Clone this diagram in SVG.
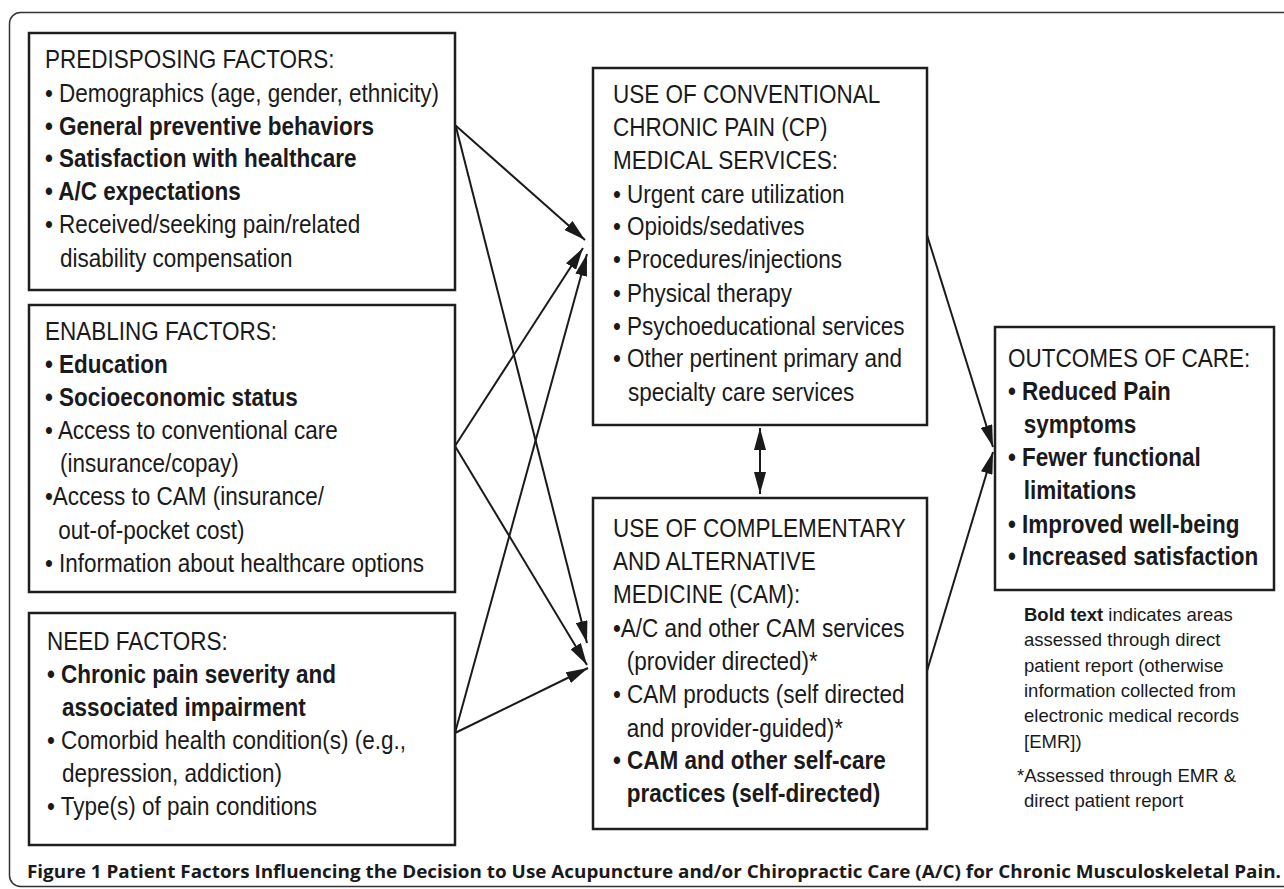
<svg xmlns="http://www.w3.org/2000/svg" width="1284" height="889" viewBox="0 0 1284 889">
<defs>
<style>
.frame{fill:none;stroke:#333;stroke-width:1.5}
.box{fill:#fff;stroke:#1e1e1e;stroke-width:2.5}
.t{font-family:"Liberation Sans",Arial,sans-serif;font-size:25px;fill:#1a1a1a}
.b{font-weight:bold}
.note{font-family:"Liberation Sans",Arial,sans-serif;font-size:18.5px;fill:#1a1a1a}
.cap{font-family:"Open Sans","Noto Sans",sans-serif;font-size:18.5px;fill:#1a1a1a;font-weight:700}
.arr{fill:none;stroke:#1a1a1a;stroke-width:2}
</style>
<marker id="ah" markerUnits="userSpaceOnUse" markerWidth="23" markerHeight="12" refX="22" refY="6" orient="auto">
<path d="M0,0 L22,6 L0,12 z" fill="#1a1a1a"/>
</marker>
<marker id="ahs" markerUnits="userSpaceOnUse" markerWidth="23" markerHeight="12" refX="0" refY="6" orient="auto">
<path d="M22,0 L0,6 L22,12 z" fill="#1a1a1a"/>
</marker>
</defs>
<rect width="1284" height="889" fill="#fff"/>
<rect class="frame" x="9.5" y="12.5" width="1300" height="874" rx="11"/>

<g id="connectors">
<line class="arr" x1="455" y1="125" x2="585" y2="240" marker-end="url(#ah)"/>
<line class="arr" x1="456" y1="127" x2="587" y2="643" marker-end="url(#ah)"/>
<line class="arr" x1="455" y1="446" x2="583" y2="248" marker-end="url(#ah)"/>
<line class="arr" x1="455" y1="446" x2="587" y2="665" marker-end="url(#ah)"/>
<line class="arr" x1="455" y1="733" x2="587" y2="254" marker-end="url(#ah)"/>
<line class="arr" x1="455" y1="733" x2="588" y2="668" marker-end="url(#ah)"/>
<line class="arr" x1="927" y1="235" x2="993" y2="447" marker-end="url(#ah)"/>
<line class="arr" x1="927" y1="671" x2="993" y2="452" marker-end="url(#ah)"/>
<line class="arr" x1="760" y1="428" x2="760" y2="494" marker-start="url(#ahs)" marker-end="url(#ah)"/>
</g>

<g id="predisposing">
<rect class="box" x="29" y="33" width="426" height="257"/>
<text class="t" transform="matrix(0.9 0 0 1 45 0)">
<tspan x="0" y="68">PREDISPOSING FACTORS:</tspan>
<tspan x="0" y="102">• Demographics (age, gender, ethnicity)</tspan>
<tspan x="0" y="135" class="b">• General preventive behaviors</tspan>
<tspan x="0" y="167" class="b">• Satisfaction with healthcare</tspan>
<tspan x="0" y="200" class="b">• A/C expectations</tspan>
<tspan x="0" y="233">• Received/seeking pain/related</tspan>
<tspan x="16.7" y="267">disability compensation</tspan>
</text>
</g>

<g id="enabling">
<rect class="box" x="29" y="305" width="426" height="287"/>
<text class="t" transform="matrix(0.9 0 0 1 45 0)">
<tspan x="0" y="340">ENABLING FACTORS:</tspan>
<tspan x="0" y="373" class="b">• Education</tspan>
<tspan x="0" y="406" class="b">• Socioeconomic status</tspan>
<tspan x="0" y="439">• Access to conventional care</tspan>
<tspan x="16.7" y="472">(insurance/copay)</tspan>
<tspan x="0" y="505">•Access to CAM (insurance/</tspan>
<tspan x="14.8" y="539">out-of-pocket cost)</tspan>
<tspan x="0" y="572">• Information about healthcare options</tspan>
</text>
</g>

<g id="need">
<rect class="box" x="29" y="613" width="426" height="232"/>
<text class="t" transform="matrix(0.9 0 0 1 47 0)">
<tspan x="0" y="650">NEED FACTORS:</tspan>
<tspan x="0" y="683" class="b">• Chronic pain severity and</tspan>
<tspan x="16.7" y="716" class="b">associated impairment</tspan>
<tspan x="0" y="749">• Comorbid health condition(s) (e.g.,</tspan>
<tspan x="16.7" y="782">depression, addiction)</tspan>
<tspan x="0" y="815">• Type(s) of pain conditions</tspan>
</text>
</g>

<g id="conventional">
<rect class="box" x="593" y="68" width="334" height="357"/>
<text class="t" transform="matrix(0.9 0 0 1 613 0)">
<tspan x="0" y="103">USE OF CONVENTIONAL</tspan>
<tspan x="0" y="136">CHRONIC PAIN (CP)</tspan>
<tspan x="0" y="169">MEDICAL SERVICES:</tspan>
<tspan x="0" y="203">• Urgent care utilization</tspan>
<tspan x="0" y="235">• Opioids/sedatives</tspan>
<tspan x="0" y="268">• Procedures/injections</tspan>
<tspan x="0" y="302">• Physical therapy</tspan>
<tspan x="0" y="335">• Psychoeducational services</tspan>
<tspan x="0" y="367">• Other pertinent primary and</tspan>
<tspan x="16.7" y="401">specialty care services</tspan>
</text>
</g>

<g id="cam">
<rect class="box" x="593" y="498" width="334" height="331"/>
<text class="t" transform="matrix(0.9 0 0 1 613 0)">
<tspan x="0" y="537">USE OF COMPLEMENTARY</tspan>
<tspan x="0" y="570">AND ALTERNATIVE</tspan>
<tspan x="0" y="603">MEDICINE (CAM):</tspan>
<tspan x="0" y="637">•A/C and other CAM services</tspan>
<tspan x="15.2" y="670">(provider directed)*</tspan>
<tspan x="0" y="703">• CAM products (self directed</tspan>
<tspan x="15.2" y="737">and provider-guided)*</tspan>
<tspan x="0" y="769" class="b">• CAM and other self-care</tspan>
<tspan x="15.2" y="802" class="b">practices (self-directed)</tspan>
</text>
</g>

<g id="outcomes">
<rect class="box" x="995" y="327" width="279" height="263"/>
<text class="t" transform="matrix(0.9 0 0 1 1008 0)">
<tspan x="0" y="367">OUTCOMES OF CARE:</tspan>
<tspan x="0" y="400" class="b">• Reduced Pain</tspan>
<tspan x="17.5" y="433" class="b">symptoms</tspan>
<tspan x="0" y="466" class="b">• Fewer functional</tspan>
<tspan x="17.5" y="499" class="b">limitations</tspan>
<tspan x="0" y="533" class="b">• Improved well-being</tspan>
<tspan x="0" y="565" class="b">• Increased satisfaction</tspan>
</text>
</g>

<g id="notes">
<text class="note">
<tspan x="1024" y="621"><tspan class="b">Bold text</tspan> indicates areas</tspan>
<tspan x="1024" y="646">assessed through direct</tspan>
<tspan x="1024" y="672">patient report (otherwise</tspan>
<tspan x="1024" y="697">information collected from</tspan>
<tspan x="1024" y="722">electronic medical records</tspan>
<tspan x="1024" y="748">[EMR])</tspan>
<tspan x="1017" y="782">*Assessed through EMR &amp;</tspan>
<tspan x="1024" y="807">direct patient report</tspan>
</text>
</g>

<g id="caption">
<text class="cap" x="27" y="878" textLength="1254" lengthAdjust="spacingAndGlyphs">Figure 1 Patient Factors Influencing the Decision to Use Acupuncture and/or Chiropractic Care (A/C) for Chronic Musculoskeletal Pain.</text>
</g>
</svg>
